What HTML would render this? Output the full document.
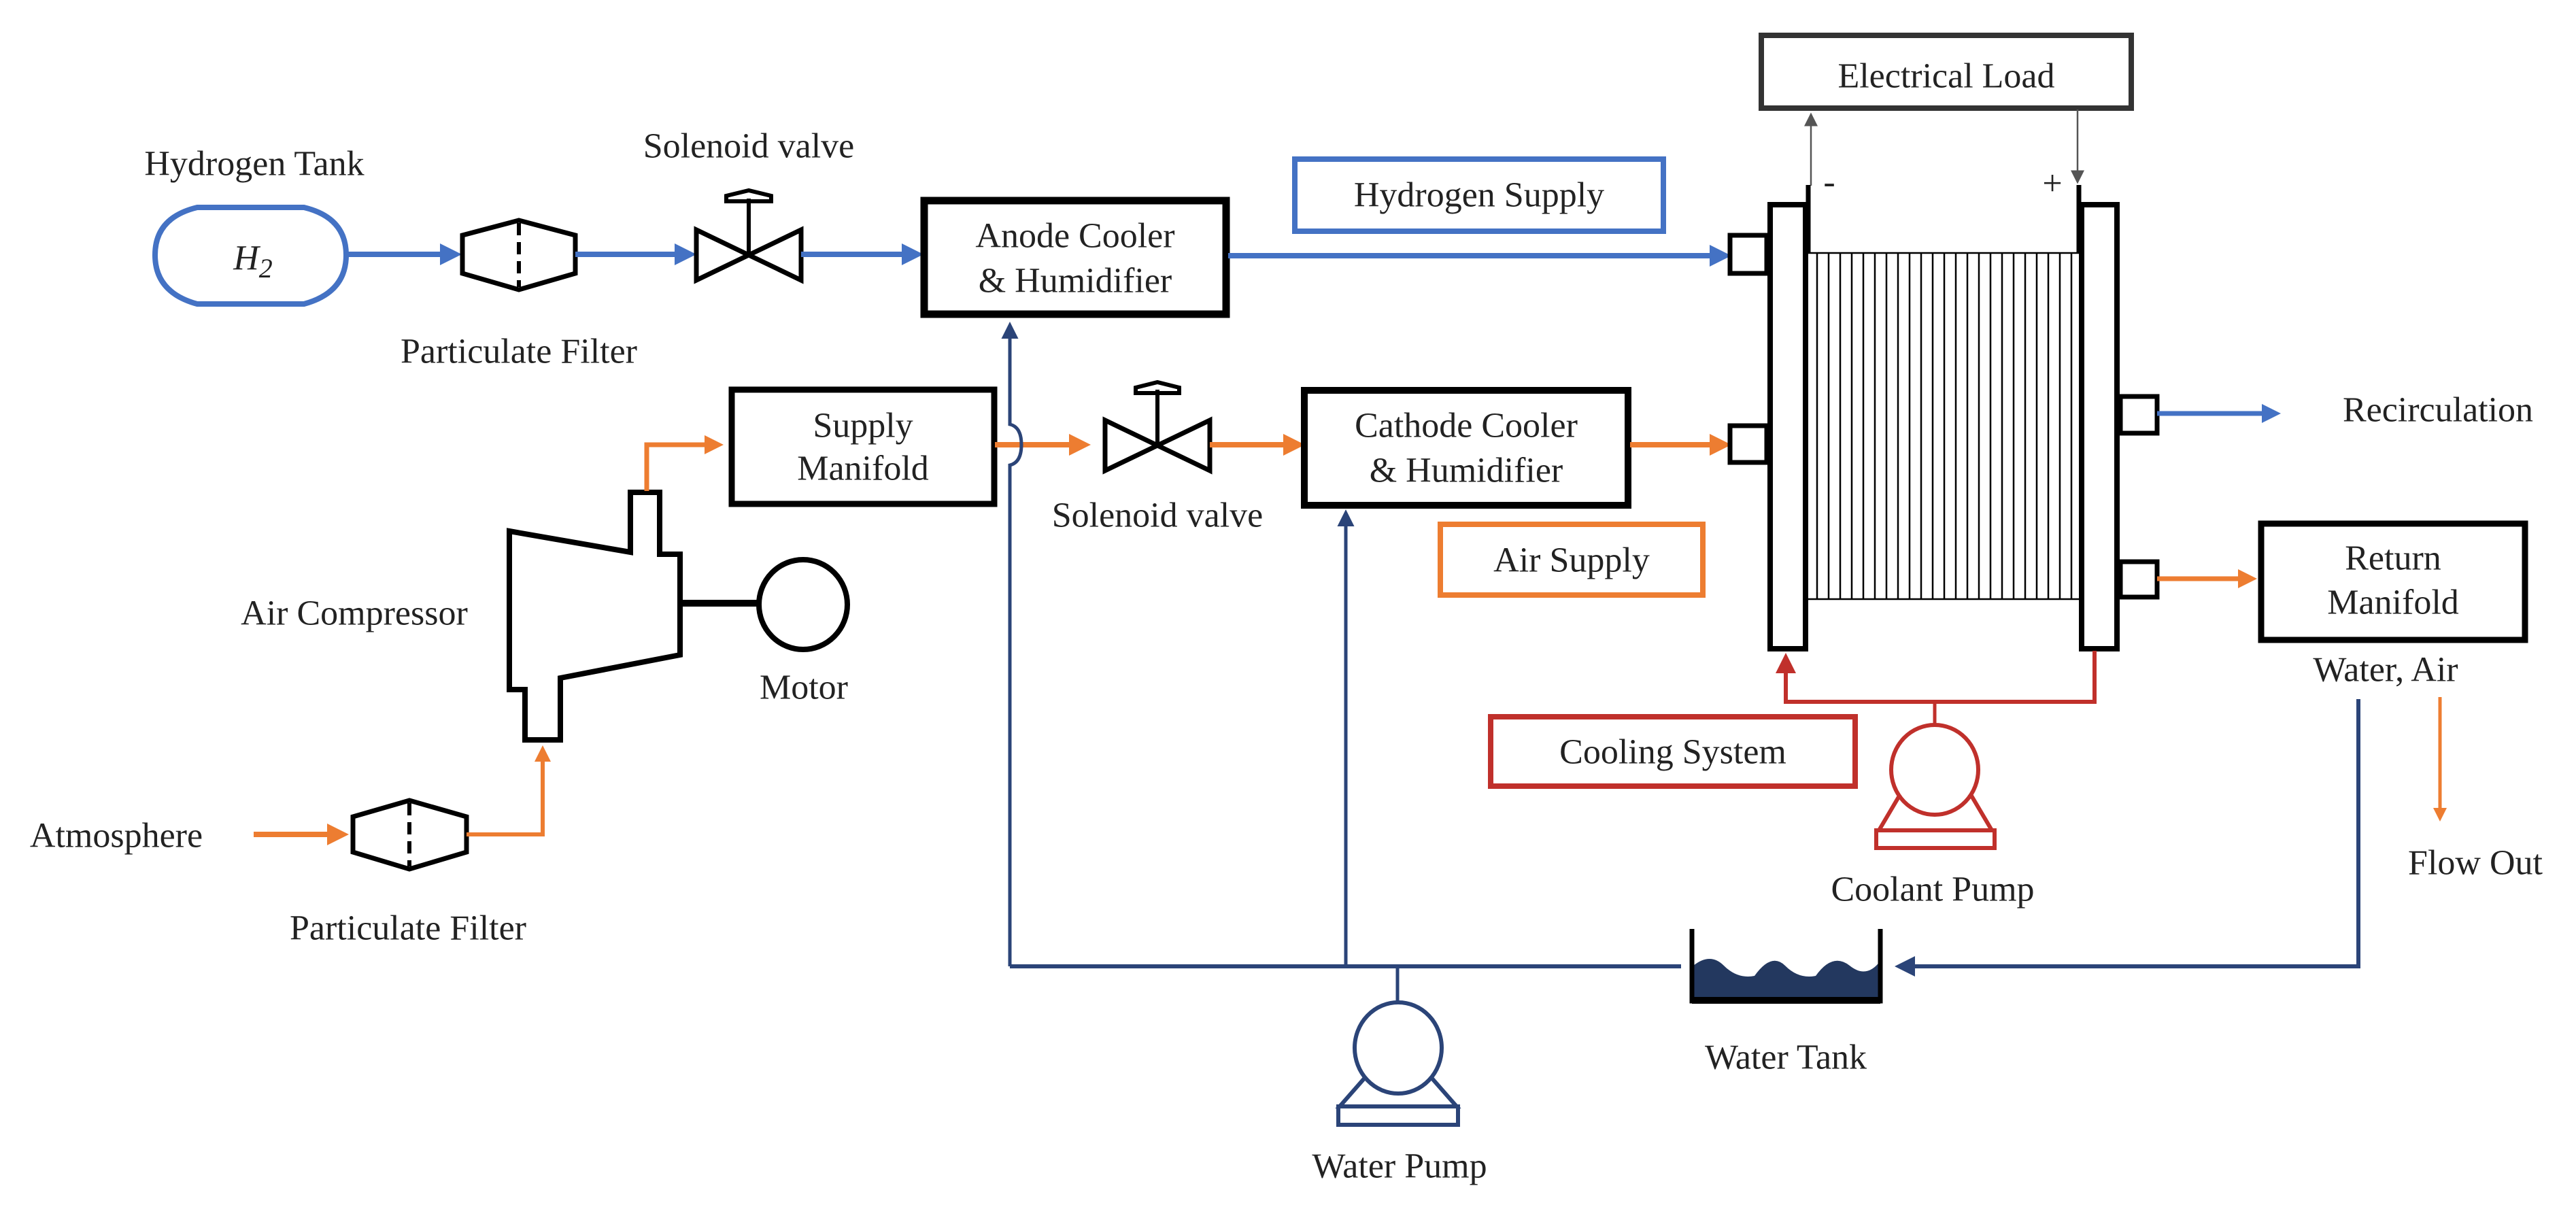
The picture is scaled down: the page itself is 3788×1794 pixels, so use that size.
<!DOCTYPE html>
<html><head><meta charset="utf-8"><style>
html,body{margin:0;padding:0;background:#fff}
svg{display:block}
text{font-family:"Liberation Serif",serif;font-size:52px;fill:#222;text-anchor:middle;dominant-baseline:central}
</style></head><body>
<svg width="3788" height="1794" viewBox="0 0 3788 1794" xmlns="http://www.w3.org/2000/svg">
<defs>
<marker id="ab" markerWidth="4" markerHeight="4" refX="3" refY="2" orient="auto" markerUnits="strokeWidth"><path d="M0,0 L4,2 L0,4 Z" fill="#4472C4"/></marker>
<marker id="ao" markerWidth="4" markerHeight="4" refX="3" refY="2" orient="auto" markerUnits="strokeWidth"><path d="M0,0 L4,2 L0,4 Z" fill="#ED7D31"/></marker>
<marker id="an" markerWidth="5" markerHeight="5" refX="4" refY="2.5" orient="auto" markerUnits="strokeWidth"><path d="M0,0 L5,2.5 L0,5 Z" fill="#2B4478"/></marker>
<marker id="ar" markerWidth="5" markerHeight="5" refX="4" refY="2.5" orient="auto" markerUnits="strokeWidth"><path d="M0,0 L5,2.5 L0,5 Z" fill="#C0302B"/></marker>
<marker id="ag" markerWidth="8" markerHeight="8" refX="7" refY="4" orient="auto" markerUnits="strokeWidth"><path d="M0,0 L8,4 L0,8 Z" fill="#555"/></marker>
</defs>

<!-- Hydrogen line -->
<text x="374" y="241">Hydrogen Tank</text>
<path d="M290,305 L447,305 Q509,320 509,375 Q509,430 447,447 L290,447 Q228,430 228,375 Q228,320 290,305 Z" fill="none" stroke="#4472C4" stroke-width="8"/>
<text x="372" y="380" font-style="italic" font-size="58">H<tspan font-size="40" dy="14">2</tspan></text>
<line x1="512" y1="374" x2="671" y2="374" stroke="#4472C4" stroke-width="8" marker-end="url(#ab)"/>
<polygon points="763,324 846,346 846,402 763,426 680,402 680,346" fill="none" stroke="#000" stroke-width="7"/>
<line x1="763" y1="328" x2="763" y2="422" stroke="#000" stroke-width="6" stroke-dasharray="18,10"/>
<line x1="846" y1="374" x2="1016" y2="374" stroke="#4472C4" stroke-width="8" marker-end="url(#ab)"/>
<polygon points="1024,338 1024,412 1178,338 1178,412" fill="none" stroke="#000" stroke-width="7" stroke-linejoin="miter"/>
<line x1="1101" y1="375" x2="1101" y2="292" stroke="#000" stroke-width="6"/>
<path d="M1068,296 L1134,296 L1134,288 L1101,280 L1068,288 Z" fill="none" stroke="#000" stroke-width="6"/>
<text x="1101" y="215">Solenoid valve</text>
<text x="763" y="517">Particulate Filter</text>
<line x1="1178" y1="374" x2="1350" y2="374" stroke="#4472C4" stroke-width="8" marker-end="url(#ab)"/>
<rect x="1359" y="295" width="444" height="167" fill="none" stroke="#000" stroke-width="11"/>
<text x="1581" y="347">Anode Cooler</text>
<text x="1581" y="413">&amp; Humidifier</text>
<line x1="1806" y1="376" x2="2538" y2="376" stroke="#4472C4" stroke-width="8" marker-end="url(#ab)"/>
<rect x="1904" y="234" width="542" height="106" fill="none" stroke="#4472C4" stroke-width="8"/>
<text x="2175" y="287">Hydrogen Supply</text>

<!-- Air line -->
<text x="171" y="1229">Atmosphere</text>
<line x1="373" y1="1227" x2="505" y2="1227" stroke="#ED7D31" stroke-width="8" marker-end="url(#ao)"/>
<polygon points="602,1177 686,1201 686,1253 602,1278 519,1253 519,1201" fill="none" stroke="#000" stroke-width="7"/>
<line x1="602" y1="1181" x2="602" y2="1274" stroke="#000" stroke-width="6" stroke-dasharray="18,10"/>
<text x="600" y="1365">Particulate Filter</text>
<polyline points="686,1227 798,1227 798,1102" fill="none" stroke="#ED7D31" stroke-width="6" marker-end="url(#ao)"/>
<path d="M749,781 L927,812 L927,724 L970,724 L970,815 L1000,815 L1000,963 L824,997 L824,1088 L772,1088 L772,1014 L749,1014 Z" fill="none" stroke="#000" stroke-width="8" stroke-linejoin="miter"/>
<line x1="1000" y1="887" x2="1115" y2="887" stroke="#000" stroke-width="10"/>
<ellipse cx="1181" cy="889" rx="65" ry="66" fill="none" stroke="#000" stroke-width="8"/>
<text x="521" y="902">Air Compressor</text>
<text x="1182" y="1011">Motor</text>
<polyline points="951,722 951,654 1057,654" fill="none" stroke="#ED7D31" stroke-width="7" marker-end="url(#ao)"/>
<rect x="1076" y="573" width="386" height="168" fill="none" stroke="#000" stroke-width="9"/>
<text x="1269" y="626">Supply</text>
<text x="1269" y="689">Manifold</text>
<line x1="1463" y1="654" x2="1596" y2="654" stroke="#ED7D31" stroke-width="8" marker-end="url(#ao)"/>
<polygon points="1625,618 1625,692 1779,618 1779,692" fill="none" stroke="#000" stroke-width="7"/>
<line x1="1702" y1="655" x2="1702" y2="573" stroke="#000" stroke-width="6"/>
<path d="M1670,578 L1734,578 L1734,570 L1702,562 L1670,570 Z" fill="none" stroke="#000" stroke-width="6"/>
<text x="1702" y="758">Solenoid valve</text>
<line x1="1779" y1="654" x2="1911" y2="654" stroke="#ED7D31" stroke-width="8" marker-end="url(#ao)"/>
<rect x="1918" y="574" width="476" height="169" fill="none" stroke="#000" stroke-width="10"/>
<text x="2156" y="626">Cathode Cooler</text>
<text x="2156" y="692">&amp; Humidifier</text>
<line x1="2397" y1="654" x2="2538" y2="654" stroke="#ED7D31" stroke-width="8" marker-end="url(#ao)"/>
<rect x="2118" y="771" width="386" height="104" fill="none" stroke="#ED7D31" stroke-width="8"/>
<text x="2311" y="824">Air Supply</text>

<!-- Fuel cell stack -->
<rect x="2590" y="52" width="544" height="107" fill="none" stroke="#333" stroke-width="8"/>
<text x="2862" y="112">Electrical Load</text>
<line x1="2663" y1="273" x2="2663" y2="168" stroke="#555" stroke-width="2.5" marker-end="url(#ag)"/>
<line x1="3055" y1="161" x2="3055" y2="268" stroke="#555" stroke-width="2.5" marker-end="url(#ag)"/>
<text x="2690" y="268" font-size="48">-</text>
<text x="3018" y="270" font-size="52">+</text>
<rect x="2544" y="346" width="54" height="56" fill="#fff" stroke="#000" stroke-width="7"/>
<rect x="2544" y="626" width="54" height="54" fill="#fff" stroke="#000" stroke-width="7"/>
<rect x="3118" y="583" width="54" height="54" fill="#fff" stroke="#000" stroke-width="7"/>
<rect x="3118" y="826" width="54" height="52" fill="#fff" stroke="#000" stroke-width="7"/>
<rect x="2603" y="301" width="52" height="653" fill="#fff" stroke="#000" stroke-width="8"/>
<rect x="3061" y="301" width="52" height="653" fill="#fff" stroke="#000" stroke-width="8"/>
<line x1="2659" y1="272" x2="2659" y2="372" stroke="#000" stroke-width="7"/>
<line x1="3057" y1="272" x2="3057" y2="372" stroke="#000" stroke-width="7"/>
<g stroke="#000" stroke-width="2.5">
<line x1="2657" y1="372" x2="3057" y2="372"/>
<line x1="2657" y1="881" x2="3057" y2="881"/>
<line x1="2672" y1="372" x2="2672" y2="881"/><line x1="2689" y1="372" x2="2689" y2="881"/><line x1="2706" y1="372" x2="2706" y2="881"/><line x1="2723" y1="372" x2="2723" y2="881"/><line x1="2740" y1="372" x2="2740" y2="881"/><line x1="2757" y1="372" x2="2757" y2="881"/><line x1="2774" y1="372" x2="2774" y2="881"/><line x1="2791" y1="372" x2="2791" y2="881"/><line x1="2808" y1="372" x2="2808" y2="881"/><line x1="2825" y1="372" x2="2825" y2="881"/><line x1="2842" y1="372" x2="2842" y2="881"/><line x1="2859" y1="372" x2="2859" y2="881"/><line x1="2876" y1="372" x2="2876" y2="881"/><line x1="2893" y1="372" x2="2893" y2="881"/><line x1="2910" y1="372" x2="2910" y2="881"/><line x1="2927" y1="372" x2="2927" y2="881"/><line x1="2944" y1="372" x2="2944" y2="881"/><line x1="2961" y1="372" x2="2961" y2="881"/><line x1="2978" y1="372" x2="2978" y2="881"/><line x1="2995" y1="372" x2="2995" y2="881"/><line x1="3012" y1="372" x2="3012" y2="881"/><line x1="3029" y1="372" x2="3029" y2="881"/><line x1="3046" y1="372" x2="3046" y2="881"/>
</g>
<line x1="3172" y1="608" x2="3347" y2="608" stroke="#4472C4" stroke-width="7" marker-end="url(#ab)"/>
<text x="3585" y="603">Recirculation</text>
<line x1="3172" y1="851" x2="3312" y2="851" stroke="#ED7D31" stroke-width="7" marker-end="url(#ao)"/>
<rect x="3325" y="770" width="388" height="171" fill="none" stroke="#000" stroke-width="9"/>
<text x="3519" y="821">Return</text>
<text x="3519" y="886">Manifold</text>
<text x="3508" y="985">Water, Air</text>
<line x1="3588" y1="1025" x2="3588" y2="1203" stroke="#ED7D31" stroke-width="5" marker-end="url(#ao)"/>
<text x="3640" y="1269">Flow Out</text>

<!-- Coolant loop -->
<polyline points="3080,957 3080,1032 2626,1032 2626,966" fill="none" stroke="#C0302B" stroke-width="6" marker-end="url(#ar)"/>
<line x1="2845" y1="1032" x2="2845" y2="1066" stroke="#C0302B" stroke-width="5"/>
<path d="M2799,1160 L2763,1221 L2929,1221 L2893,1160" fill="none" stroke="#C0302B" stroke-width="6"/>
<rect x="2759" y="1221" width="174" height="26" fill="#fff" stroke="#C0302B" stroke-width="6"/>
<ellipse cx="2845" cy="1132" rx="64" ry="66" fill="#fff" stroke="#C0302B" stroke-width="6"/>
<rect x="2192" y="1054" width="536" height="102" fill="none" stroke="#C0302B" stroke-width="8"/>
<text x="2460" y="1106">Cooling System</text>
<text x="2842" y="1308">Coolant Pump</text>

<!-- Water loop -->
<polyline points="3468,1028 3468,1421 2792,1421" fill="none" stroke="#2B4478" stroke-width="6" marker-end="url(#an)"/>
<path d="M1485,1421 L1485,684 Q1502,680 1502,654 Q1502,628 1485,624 L1485,478" fill="none" stroke="#2B4478" stroke-width="5" marker-end="url(#an)"/>
<line x1="1485" y1="1421" x2="2472" y2="1421" stroke="#2B4478" stroke-width="6"/>
<line x1="1979" y1="1421" x2="1979" y2="754" stroke="#2B4478" stroke-width="5" marker-end="url(#an)"/>
<line x1="2055" y1="1421" x2="2055" y2="1474" stroke="#2B4478" stroke-width="5"/>
<path d="M2013,1578 L1970,1627 L2142,1627 L2099,1578" fill="none" stroke="#2B4478" stroke-width="6"/>
<rect x="1968" y="1627" width="176" height="27" fill="#fff" stroke="#2B4478" stroke-width="6"/>
<ellipse cx="2056" cy="1541" rx="64" ry="67" fill="#fff" stroke="#2B4478" stroke-width="6"/>
<text x="2058" y="1715">Water Pump</text>
<path d="M2490,1420 Q2515,1400 2535,1420 T2580,1435 Q2605,1400 2625,1420 T2670,1435 Q2695,1400 2720,1420 T2765,1413 L2765,1472 L2490,1472 Z" fill="#23385F"/>
<polyline points="2488,1366 2488,1472 2765,1472 2765,1366" fill="none" stroke="#000" stroke-width="7"/>
<line x1="2488" y1="1471" x2="2765" y2="1471" stroke="#000" stroke-width="10"/>
<text x="2626" y="1555">Water Tank</text>
</svg>
</body></html>
